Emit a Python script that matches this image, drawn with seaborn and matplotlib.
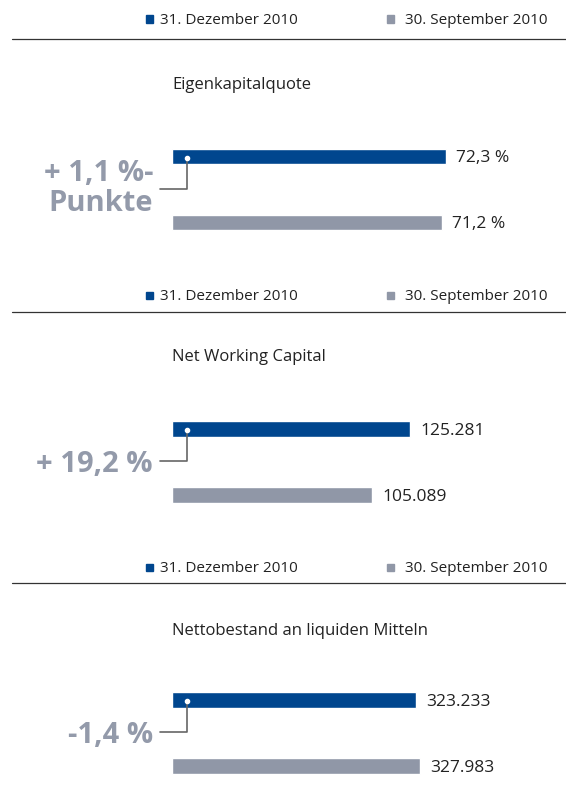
import matplotlib
matplotlib.use("Agg")
import matplotlib.pyplot as plt
import seaborn as sns
from matplotlib.lines import Line2D
from matplotlib.patches import Rectangle

# Data
titles = ["Eigenkapitalquote", "Net Working Capital", "Nettobestand an liquiden Mitteln"]
current_values = [72.3, 125.281, 323.233]
previous_values = [71.2, 105.089, 327.983]
current_labels = ["72,3 %", "125.281", "323.233"]
previous_labels = ["71,2 %", "105.089", "327.983"]
deltas = ["+ 1,1 %-\nPunkte", "+ 19,2 %", "-1,4 %"]
legend_labels = ["31. Dezember 2010", "30. September 2010"]

blue = "#00468e"
gray = "#9097a7"
delta_color = "#939aaa"
text_color = "#222222"

sns.set_theme(style="white")
plt.rcParams['font.family'] = ['Open Sans', 'DejaVu Sans']

W, H = 566, 801
fig = plt.figure(figsize=(W / 100, H / 100), dpi=100)


def fx(px):
    return px / W


def fy(py):
    return 1 - py / H


# layout (pixels)
legend_y = [19, 295, 567]
rule_y = [39, 312, 583]
title_y = [83, 355, 629]
blue_y = [156.5, 429, 700]
delta_y = [189, 461, 732]
bar_left = 172
bar_px = [274, 238, 244]    # drawn length of the blue bar (scale per panel)

for i in range(3):
    # legend row
    fig.patches.append(Rectangle((fx(146), fy(legend_y[i] + 3.5)), 7 / W, 7 / H,
                                 transform=fig.transFigure, color=blue))
    fig.text(fx(160), fy(legend_y[i]), legend_labels[0], fontsize=11,
             color=text_color, va="center_baseline", ha="left")
    fig.patches.append(Rectangle((fx(387), fy(legend_y[i] + 3.5)), 7 / W, 7 / H,
                                 transform=fig.transFigure, color=gray))
    fig.text(fx(405), fy(legend_y[i]), legend_labels[1], fontsize=11,
             color=text_color, va="center_baseline", ha="left")
    fig.add_artist(Line2D([fx(12), 1], [fy(rule_y[i]), fy(rule_y[i])],
                          transform=fig.transFigure, color="#333333", lw=0.9))

    # title
    fig.text(fx(172), fy(title_y[i]), titles[i], fontsize=12,
             color=text_color, va="center_baseline", ha="left")

    # bars
    ax_top = blue_y[i] - 33
    ax = fig.add_axes([fx(bar_left), fy(ax_top + 132), 1 - fx(bar_left), 132 / H])
    cats = ["aktuell", "vorher"]
    vals = [current_values[i], previous_values[i]]
    sns.barplot(x=vals, y=cats, hue=cats, palette=[blue, gray], legend=False,
                width=0.235, ax=ax, saturation=1)
    xmax = current_values[i] * (W - bar_left) / bar_px[i]
    ax.set_xlim(0, xmax)
    ax.set_ylim(1.5, -0.5)
    ax.axis("off")
    for j, lab in enumerate([current_labels[i], previous_labels[i]]):
        ax.annotate(lab, (vals[j], j), xytext=(7.5, 0), textcoords="offset points",
                    fontsize=12.5, color=text_color, va="center_baseline", ha="left")

    # delta text and connector
    if "\n" in deltas[i]:
        fig.text(fx(153), fy(delta_y[i] - 0.5), deltas[i], fontsize=21, fontweight="bold",
                 color=delta_color, va="center", ha="right", linespacing=1.08)
    else:
        fig.text(fx(153), fy(delta_y[i]), deltas[i], fontsize=21, fontweight="bold",
                 color=delta_color, va="center_baseline", ha="right")
    fig.add_artist(Line2D([fx(187), fx(187), fx(160)],
                          [fy(blue_y[i] + 1), fy(delta_y[i]), fy(delta_y[i])],
                          transform=fig.transFigure, color="#666666", lw=1.2))
    fig.add_artist(Line2D([fx(187)], [fy(blue_y[i] + 1)], transform=fig.transFigure,
                          marker="o", markersize=3, color="white", lw=0))

fig.savefig("out.png", dpi=100, facecolor="white")
